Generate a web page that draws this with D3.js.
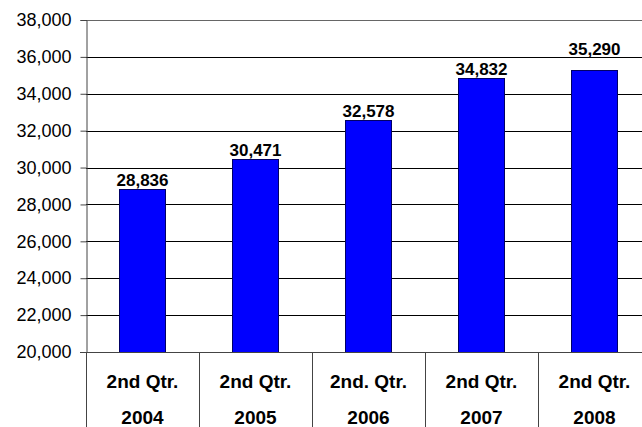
<!DOCTYPE html>
<html>
<head>
<meta charset="utf-8">
<script src="https://cdn.jsdelivr.net/npm/d3@7"></script>
<style>
body { margin:0; background:#fff; }
text { font-family: Arial, "Liberation Sans", sans-serif; }
.valueLabel { font-size:17px; font-weight:bold; fill:#000; }
.catLabel { font-size:19px; font-weight:bold; fill:#000; }
</style>
</head>
<body>
<svg id="qtrgraph"></svg>
<script>
//categories and values
var quarters = ["2nd Qtr.","2nd Qtr.","2nd. Qtr.","2nd Qtr.","2nd Qtr."]
var years = ["2004","2005","2006","2007","2008"]
var totals = [28836,30471,32578,34832,35290]
var yTicks = [20000,22000,24000,26000,28000,30000,32000,34000,36000,38000]

var initQtrGraph = function()
{
    var screen = {width:642,height:427}
    var margins = {left:86,top:20}
    var graph = {width:565,height:332}

    var svg = d3.select("#qtrgraph")
        .attr("width",screen.width)
        .attr("height",screen.height)

    var xScale = d3.scaleBand()
        .domain(years)
        .range([0,graph.width])
        .paddingInner(0.59)
        .paddingOuter(0.295)

    var yScale = d3.scaleLinear()
        .domain([20000,38000])
        .range([graph.height,0])

    var target = svg.append("g")
        .attr("transform","translate("+margins.left+","+margins.top+")")

    //gridlines
    target.append("g")
        .selectAll("line")
        .data(yTicks.slice(1))
        .enter()
        .append("line")
        .attr("x1",0)
        .attr("x2",graph.width)
        .attr("y1",function(d){return Math.round(yScale(d))+0.5})
        .attr("y2",function(d){return Math.round(yScale(d))+0.5})
        .attr("stroke",function(d,i){return i==yTicks.length-2?"#666":"#000"})
        .attr("stroke-width",1)

    //bars
    target.selectAll("rect")
        .data(totals)
        .enter()
        .append("rect")
        .attr("x",function(d,i){return Math.round(xScale(years[i]))+0.5})
        .attr("y",function(d){return Math.round(yScale(d))+0.5})
        .attr("width",Math.round(xScale.bandwidth()))
        .attr("height",function(d){return Math.round(graph.height-yScale(d))})
        .attr("fill","#0000ff")
        .attr("stroke","#000066")
        .attr("stroke-width",1)

    //value labels
    target.selectAll(".valueLabel")
        .data(totals)
        .enter()
        .append("text")
        .classed("valueLabel",true)
        .attr("text-anchor","middle")
        .attr("x",function(d,i){return xScale(years[i])+xScale.bandwidth()/2})
        .attr("y",function(d,i){return yScale(d)-(i==4?15:3)})
        .text(function(d){return d3.format(",")(d)})

    //y axis
    var yAxis = d3.axisLeft(yScale)
        .tickValues(yTicks)
        .tickFormat(d3.format(","))
        .tickSize(6)
        .tickPadding(9)
    var yg = target.append("g")
        .attr("transform","translate(0.5,0)")
        .call(yAxis)
        .attr("font-size",18)
        .attr("font-family","Arial, 'Liberation Sans', sans-serif")
    yg.select(".domain").attr("stroke","#444")
    yg.selectAll(".tick line").attr("stroke","#444")
    yg.selectAll(".tick text").attr("fill","#000")

    //bottom axis line and category separators
    target.append("line")
        .attr("x1",-6).attr("x2",graph.width)
        .attr("y1",graph.height+0.5).attr("y2",graph.height+0.5)
        .attr("stroke","#444")

    var step = xScale.step()
    target.append("g")
        .selectAll("line")
        .data(d3.range(years.length+1))
        .enter()
        .append("line")
        .attr("x1",function(i){return Math.round(i*step)+0.5})
        .attr("x2",function(i){return Math.round(i*step)+0.5})
        .attr("y1",graph.height)
        .attr("y2",screen.height)
        .attr("stroke","#444")

    //category labels
    var cats = target.append("g")
    cats.selectAll(".q")
        .data(quarters)
        .enter()
        .append("text")
        .classed("catLabel",true)
        .attr("text-anchor","middle")
        .attr("x",function(d,i){return xScale(years[i])+xScale.bandwidth()/2})
        .attr("y",graph.height+36)
        .text(function(d){return d})
    cats.selectAll(".y")
        .data(years)
        .enter()
        .append("text")
        .classed("catLabel",true)
        .attr("text-anchor","middle")
        .attr("x",function(d){return xScale(d)+xScale.bandwidth()/2})
        .attr("y",graph.height+72)
        .text(function(d){return d})
}

initQtrGraph()
</script>
</body>
</html>
